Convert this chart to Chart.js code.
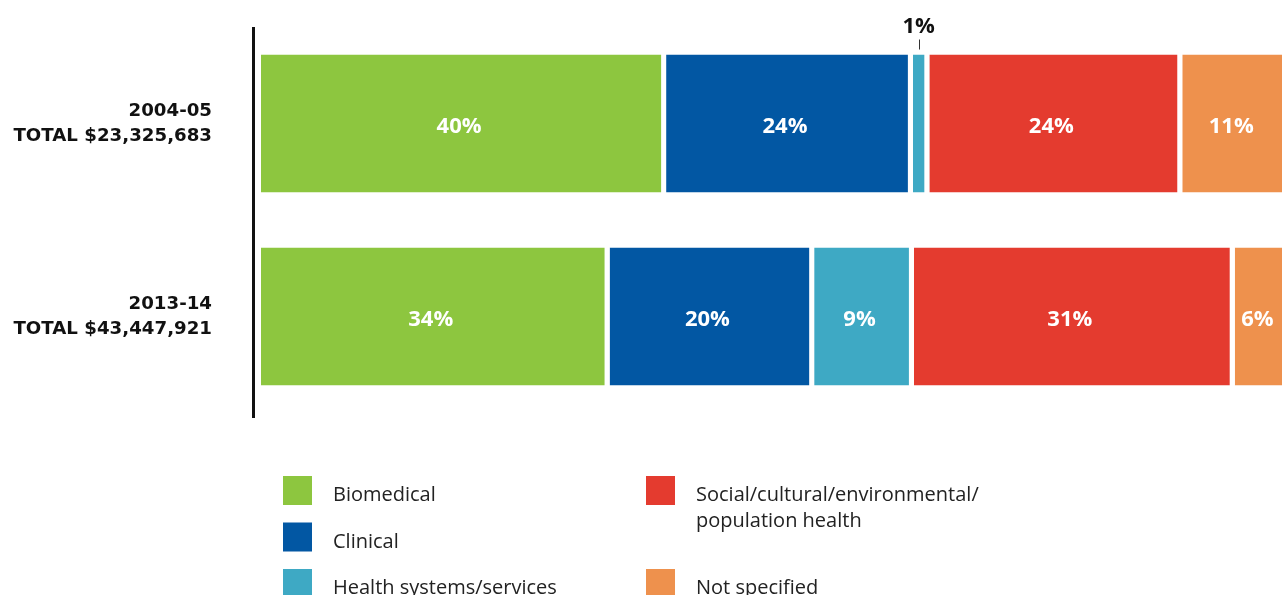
<!DOCTYPE html>
<html lang="en">
<head>
    <meta charset="UTF-8">
    <title>Research funding by type</title>
    <script src="https://cdn.jsdelivr.net/npm/chart.js"></script>
    <style>
        body { margin: 0; background: #fff; overflow: hidden; }
        canvas { display: block; }
    </style>
</head>
<body>
    <canvas id="myChart" width="1282" height="595"></canvas>
    <script>
        // categories (two-line y labels)
        const categories = [
            ['2004-05', 'TOTAL $23,325,683'],
            ['2013-14', 'TOTAL $43,447,921']
        ];

        // series names
        const seriesNames = ['Biomedical', 'Clinical', 'Health systems/services',
            ['Social/cultural/environmental/', 'population health'], 'Not specified'];

        // shares of total funding (%)
        const biomedical = [39.4, 33.9];
        const clinical = [24.0, 19.9];
        const healthSystems = [1.6, 9.7];
        const social = [24.6, 31.2];
        const notSpecified = [10.4, 5.3];

        // the labels printed on the bars
        const biomedicalLabels = ['40%', '34%'];
        const clinicalLabels = ['24%', '20%'];
        const healthSystemsLabels = ['1%', '9%'];
        const socialLabels = ['24%', '31%'];
        const notSpecifiedLabels = ['11%', '6%'];

        const colors = ['#8dc63f', '#0257a3', '#3ea9c4', '#e43b2f', '#ee914d'];
        const FONT = '"Open Sans", "Noto Sans", sans-serif';

        const seriesData = [biomedical, clinical, healthSystems, social, notSpecified];
        const seriesLabels = [biomedicalLabels, clinicalLabels, healthSystemsLabels, socialLabels, notSpecifiedLabels];

        // axis line, in-bar labels, the small "1%" callout
        const barLabels = {
            id: 'barLabels',
            afterDatasetsDraw(chart) {
                const ctx = chart.ctx;
                const area = chart.chartArea;
                ctx.save();
                // vertical axis line a little left of the bars
                ctx.fillStyle = '#111';
                ctx.fillRect(area.left - 9, area.top, 3, area.bottom - area.top + 5);

                chart.data.datasets.forEach((ds, di) => {
                    const meta = chart.getDatasetMeta(di);
                    meta.data.forEach((bar, i) => {
                        const p = bar.getProps(['x', 'y', 'base', 'height'], true);
                        const text = seriesLabels[di][i];
                        const cx = (p.base + p.x - 5) / 2;
                        ctx.textAlign = 'center';
                        ctx.font = 'bold 22px ' + FONT;
                        if (ds.data[i] < 3) {
                            const top = p.y - p.height / 2;
                            ctx.fillStyle = '#111';
                            ctx.textBaseline = 'alphabetic';
                            ctx.fillText(text, cx, top - 22);
                            ctx.fillStyle = '#333';
                            ctx.fillRect(Math.round(cx), top - 15, 1, 10);
                        } else {
                            ctx.fillStyle = '#fff';
                            ctx.textBaseline = 'middle';
                            ctx.fillText(text, cx - 2, p.y + 3);
                        }
                    });
                });
                ctx.restore();
            }
        };

        // two-column legend under the chart
        const legendBox = {
            id: 'legendBox',
            afterDraw(chart) {
                const ctx = chart.ctx;
                const colX = [283, 646];
                const place = [[0, 0], [0, 1], [0, 2], [1, 0], [1, 2]];
                ctx.save();
                ctx.font = '20px ' + FONT;
                ctx.textAlign = 'left';
                ctx.textBaseline = 'alphabetic';
                chart.data.datasets.forEach((ds, di) => {
                    const x = colX[place[di][0]];
                    const y = 476 + place[di][1] * 46.5;
                    ctx.fillStyle = ds.backgroundColor;
                    ctx.fillRect(x, y, 29, 29);
                    ctx.fillStyle = '#222';
                    const lines = [].concat(seriesNames[di]);
                    lines.forEach((ln, k) => ctx.fillText(ln, x + 50, y + 25 + k * 26));
                });
                ctx.restore();
            }
        };

        const ctx = document.getElementById('myChart').getContext('2d');
        new Chart(ctx, {
            type: 'bar',
            data: {
                labels: categories,
                datasets: seriesData.map((d, i) => ({
                    label: [].concat(seriesNames[i]).join(' '),
                    data: d,
                    backgroundColor: colors[i],
                    borderColor: '#ffffff',
                    borderWidth: { top: 0, bottom: 0, left: 0, right: 5 },
                    borderSkipped: false,
                    inflateAmount: 0,
                    barPercentage: 1,
                    categoryPercentage: 0.715
                }))
            },
            options: {
                indexAxis: 'y',
                responsive: false,
                animation: false,
                layout: {
                    padding: { top: 27, bottom: 182, left: 0, right: 0 }
                },
                plugins: {
                    legend: { display: false },
                    tooltip: { enabled: false }
                },
                scales: {
                    x: {
                        stacked: true,
                        display: false,
                        min: 0,
                        max: 99.3
                    },
                    y: {
                        stacked: true,
                        grid: { display: false, drawTicks: false },
                        border: { display: false },
                        afterFit(scale) {
                            scale.width = 261;
                            scale.paddingTop = 0;
                            scale.paddingBottom = 0;
                        },
                        ticks: {
                            padding: 49,
                            color: '#111',
                            font: { family: '"DejaVu Sans", sans-serif', size: 18.2, weight: 'bold', lineHeight: 1.38 }
                        }
                    }
                }
            },
            plugins: [barLabels, legendBox]
        });
    </script>
</body>
</html>
